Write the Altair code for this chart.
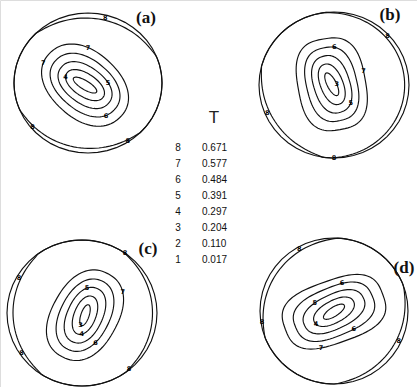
import math
import numpy as np
import pandas as pd
import altair as alt

# Legend: contour numbers and the T value each one stands for
levels = ["8", "7", "6", "5", "4", "3", "2", "1"]
t_values = ["0.671", "0.577", "0.484", "0.391", "0.297", "0.204", "0.110", "0.017"]

# Closed contours of each pole figure, outermost first.
# Semi-axes are fractions of the projection radius; angle is the tilt of the
# long axis (degrees, clockwise from the +x direction); power shapes the
# outline (2 = ellipse, larger = squarer).
contour_panel = ["a"] * 5 + ["b"] * 5 + ["c"] * 5 + ["d"] * 5
contour_level = ["7", "6", "5", "4", "3"] * 4
contour_major = [0.66, 0.53, 0.41, 0.30, 0.185,
                 0.63, 0.51, 0.40, 0.29, 0.17,
                 0.645, 0.52, 0.40, 0.275, 0.15,
                 0.70, 0.56, 0.44, 0.30, 0.165]
contour_minor = [0.465, 0.355, 0.255, 0.16, 0.062,
                 0.45, 0.335, 0.24, 0.15, 0.062,
                 0.44, 0.33, 0.235, 0.145, 0.055,
                 0.425, 0.33, 0.235, 0.15, 0.062]
contour_angle = [45, 42, 39, 36, 33,
                 80, 77, 73, 69, 64,
                 -62, -64, -66, -69, -72,
                 -20, -23, -26, -29, -33]
contour_power = [2.2, 2.2, 2.2, 2.1, 2.0,
                 2.8, 2.6, 2.4, 2.2, 2.0,
                 2.3, 2.2, 2.2, 2.1, 2.0,
                 2.9, 2.7, 2.4, 2.2, 2.0]
# offset of the contour nest from the projection centre
nest_panel = ["a", "b", "c", "d"]
nest_dx = [-0.04, -0.03, 0.04, 0.0]
nest_dy = [0.03, -0.01, 0.03, 0.01]

# Crescent-shaped gaps between the rim and the outermost (level 8) contour
ring_panel = ["a", "a", "b", "b", "c", "c", "d", "d"]
ring_start = [-134, 46, -96, 99, 123, -55, 160, -19]
ring_end = [-23, 157, 90, 194, 234, 54, 272, 88]
ring_depth = [0.075, 0.068, 0.058, 0.068, 0.08, 0.06, 0.07, 0.068]

# Level labels sitting on the rim contour (direction in degrees)
rim_label_panel = ["a", "a", "a", "b", "b", "b", "c", "c", "c", "c", "d", "d", "d"]
rim_label_angle = [-76, 140, 57, -43, 157, 90, 210, -55, 146, 51, 241, 171, 25]

# Level labels on the closed contours: contour index, position along it (deg)
tag_panel = ["a", "a", "a", "a", "a", "b", "b", "b", "b", "c", "c", "c", "c", "c", "d", "d", "d", "d", "d"]
tag_contour = [0, 0, 1, 2, 3, 0, 1, 2, 4, 0, 1, 2, 3, 4, 0, 1, 1, 2, 3]
tag_pos = [-120, 160, 20, -60, 160, -95, 200, -40, -80, 40, 120, -30, 160, 200, 110, -70, 80, 250, 170]

# Layout of the four projections on the page
CENTER = {"a": (88, 83), "b": (334, 85), "c": (82, 313), "d": (334, 311)}
RADIUS = {"a": (74, 70), "b": (75, 73), "c": (75, 73), "d": (74, 73)}
W, H = 417, 387


def place(panel, u, v):
    cx, cy = CENTER[panel]
    rx, ry = RADIUS[panel]
    return cx + rx * u, cy + ry * v


def gap(panel, theta):
    d = 0.0
    for p, s, e, dep in zip(ring_panel, ring_start, ring_end, ring_depth):
        if p != panel:
            continue
        span = (e - s) % 360
        f = ((theta - s) % 360) / span
        if 0 <= f <= 1:
            d += dep * math.sin(math.pi * f) ** 0.7
    return d


def contour_point(i, t_deg):
    a, b, n = contour_major[i], contour_minor[i], contour_power[i]
    t = math.radians(t_deg)
    c, s = math.cos(t), math.sin(t)
    xl = a * math.copysign(abs(c) ** (2 / n), c)
    yl = b * math.copysign(abs(s) ** (2 / n), s)
    phi = math.radians(contour_angle[i])
    X = xl * math.cos(phi) - yl * math.sin(phi)
    Y = xl * math.sin(phi) + yl * math.cos(phi)
    k = nest_panel.index(contour_panel[i])
    return place(contour_panel[i], nest_dx[k] + X, nest_dy[k] + Y)


rows = []
for panel in CENTER:
    # outer rim, drawn as a polygon
    for j, th in enumerate(np.arange(0, 360.01, 7.5)):
        r = math.radians(th)
        x, y = place(panel, math.cos(r), math.sin(r))
        rows.append({"path": f"{panel}-rim", "order": j, "x": x, "y": y})
    # level 8 contour hugging the rim
    for j, th in enumerate(np.arange(0, 360.01, 3)):
        r = math.radians(th)
        k = 1 - gap(panel, th)
        x, y = place(panel, k * math.cos(r), k * math.sin(r))
        rows.append({"path": f"{panel}-8", "order": j, "x": x, "y": y})

for i in range(len(contour_panel)):
    for j, t in enumerate(np.arange(0, 360.01, 4)):
        x, y = contour_point(i, t)
        rows.append({"path": f"{contour_panel[i]}-c{i}", "order": j, "x": x, "y": y})

lines = pd.DataFrame(rows)

tags = []
for p, ang in zip(rim_label_panel, rim_label_angle):
    r = math.radians(ang)
    k = 1 - gap(p, ang) / 2
    x, y = place(p, k * math.cos(r), k * math.sin(r))
    tags.append({"x": x, "y": y, "label": "8"})
for p, ci, pos in zip(tag_panel, tag_contour, tag_pos):
    i = contour_panel.index(p) + ci
    x, y = contour_point(i, pos)
    tags.append({"x": x, "y": y, "label": contour_level[i]})
tags = pd.DataFrame(tags)

panel_titles = pd.DataFrame({
    "label": ["(a)", "(b)", "(c)", "(d)"],
    "x": [146, 390, 148, 404],
    "y": [18, 15, 249, 268],
})

legend = pd.DataFrame({
    "level": levels,
    "T": t_values,
    "y": [148 + 16 * k for k in range(len(levels))],
})

xs = alt.Scale(domain=[0, W], range=[0, W])
ys = alt.Scale(domain=[0, H], range=[0, H])
X = lambda f="x": alt.X(f"{f}:Q", scale=xs, axis=None)
Y = lambda f="y": alt.Y(f"{f}:Q", scale=ys, axis=None)

contours = alt.Chart(lines).mark_line(color="#111111", strokeWidth=1.15).encode(
    x=X(), y=Y(), detail="path:N", order="order:Q"
)

tag_text = alt.Chart(tags).mark_text(
    font="DejaVu Sans", fontSize=6.5, fontWeight="bold", fill="#000000"
).encode(x=X(), y=Y(), text="label:N")

titles = alt.Chart(panel_titles).mark_text(
    font="Liberation Serif", fontSize=17, fontWeight="bold", fill="#111111"
).encode(x=X(), y=Y(), text="label:N")

t_head = alt.Chart(pd.DataFrame({"x": [214], "y": [118], "s": ["T"]})).mark_text(
    font="Liberation Sans", fontSize=17, fontWeight=300, fill="#222222"
).encode(x=X(), y=Y(), text="s:N")

legend_num = alt.Chart(legend).mark_text(
    font="Liberation Sans", fontSize=10, fill="#111111"
).encode(x=alt.value(178), y=Y(), text="level:N")

legend_val = alt.Chart(legend).mark_text(
    font="Liberation Sans", fontSize=10, fill="#111111", align="left"
).encode(x=alt.value(202), y=Y(), text="T:N")

chart = alt.layer(contours, tag_text, titles, t_head, legend_num, legend_val).properties(
    width=W, height=H, padding=0, autosize=alt.AutoSizeParams(type="none")
).configure_view(stroke=None).configure(background="white")

chart.save("out.html", embed_options={"renderer": "svg", "actions": False})
